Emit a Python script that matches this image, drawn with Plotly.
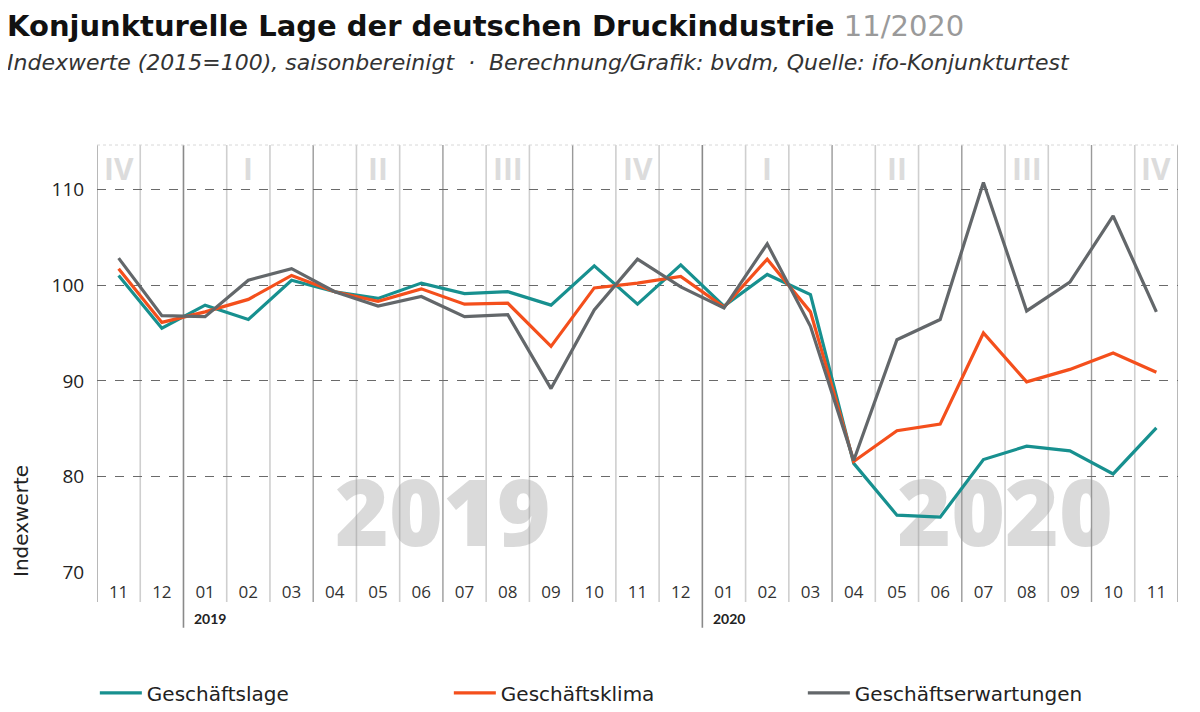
import plotly.graph_objects as go

# Monate 11/2018 - 11/2020
months = ["11", "12", "01", "02", "03", "04", "05", "06", "07", "08", "09", "10", "11", "12",
          "01", "02", "03", "04", "05", "06", "07", "08", "09", "10", "11"]

geschaeftslage = [101.0, 95.5, 97.9, 96.4, 100.5, 99.3, 98.6, 100.2, 99.1, 99.3, 97.9, 102.0, 98.0,
                  102.1, 97.8, 101.1, 99.0, 81.4, 76.0, 75.8, 81.8, 83.2, 82.7, 80.3, 85.1]
geschaeftsklima = [101.7, 96.1, 97.2, 98.5, 101.0, 99.3, 98.3, 99.6, 98.0, 98.1, 93.6, 99.7, 100.2,
                   100.9, 97.7, 102.7, 97.2, 81.6, 84.8, 85.5, 95.0, 89.9, 91.2, 92.9, 90.9]
geschaeftserwartungen = [102.8, 96.8, 96.7, 100.5, 101.7, 99.3, 97.8, 98.8, 96.7, 96.9, 89.2, 97.4, 102.7,
                         99.8, 97.6, 104.3, 95.7, 81.7, 94.3, 96.4, 110.7, 97.3, 100.3, 107.2, 97.2]

quarters = ["IV", "I", "II", "III", "IV", "I", "II", "III", "IV"]
quarter_pos = [0, 3, 6, 9, 12, 15, 18, 21, 24]
years = ["2019", "2020"]
year_pos = [1.5, 13.5]
year_mark_pos = [7.5, 20.5]

FONT = "Lato"
TFONT = "Open Sans"
WFONT = "DejaVu Sans"
x = list(range(len(months)))

fig = go.Figure()

# grosse Jahreszahlen im Hintergrund
fig.add_trace(go.Scatter(x=year_mark_pos, y=[75.2, 75.2], mode="text", text=years,
                         textfont=dict(family=TFONT, size=92, color="rgba(150,150,150,0.35)", weight=800),
                         hoverinfo="skip", showlegend=False))

series = [("Geschäftslage", geschaeftslage, "#17908f"),
          ("Geschäftsklima", geschaeftsklima, "#f44f1c"),
          ("Geschäftserwartungen", geschaeftserwartungen, "#63676a")]
for name, vals, col in series:
    fig.add_trace(go.Scatter(x=x, y=vals, mode="lines", name=name,
                             line=dict(color=col, width=3.2)))

shapes = []
for k in range(len(months) + 1):
    xb = k - 0.5
    if k in (2, 14):
        shapes.append(dict(type="line", xref="x", yref="paper", x0=xb, x1=xb, y0=-0.128, y1=1,
                           line=dict(color="#8a8a8a", width=1.6), layer="below"))
    elif (k - 2) % 3 == 0 or k in (0, 25):
        shapes.append(dict(type="line", xref="x", yref="paper", x0=xb, x1=xb, y0=-0.068, y1=1,
                           line=dict(color="#9a9a9a", width=1.4), layer="below"))
    else:
        shapes.append(dict(type="line", xref="x", yref="paper", x0=xb, x1=xb, y0=-0.068, y1=1,
                           line=dict(color="#cfcfcf", width=1.6), layer="below"))
shapes.append(dict(type="line", xref="paper", yref="paper", x0=0, x1=1, y0=1, y1=1,
                   line=dict(color="#d8d8d8", width=1, dash="dot"), layer="below"))

annotations = []
for q, p in zip(quarters, quarter_pos):
    annotations.append(dict(x=p, y=112.1, xref="x", yref="y", text="<b>%s</b>" % q, showarrow=False,
                            font=dict(family=TFONT, size=30, color="#dcdcdc")))
for yr, p in zip(years, year_pos):
    annotations.append(dict(x=p, y=-0.107, xref="x", yref="paper", text="<b>%s</b>" % yr, showarrow=False,
                            xanchor="left", yanchor="middle", xshift=9,
                            font=dict(family=FONT, size=14, color="#222")))
annotations.append(dict(x=-76 / 1081, y=(573 - 521) / 428, xref="paper", yref="paper", text="Indexwerte",
                        textangle=-90, xanchor="center", yanchor="middle", showarrow=False,
                        font=dict(family=WFONT, size=20, color="#222")))
annotations.append(dict(x=-92 / 1081, y=(573 - 62) / 428, xref="paper", yref="paper", xanchor="left",
                        yanchor="middle", showarrow=False,
                        text="<i>Indexwerte (2015=100), saisonbereinigt  ·  Berechnung/Grafik: bvdm, Quelle: ifo-Konjunkturtest</i>",
                        font=dict(family=WFONT, size=22, color="#333")))
annotations.append(dict(x=-92 / 1081, y=(573 - 26) / 428, xref="paper", yref="paper", xanchor="left",
                        yanchor="middle", showarrow=False,
                        text="<b>Konjunkturelle Lage der deutschen Druckindustrie</b> <span style='color:#9a9a9a'>11/2020</span>",
                        font=dict(family=WFONT, size=29, color="#111")))

# Seite hat 8px Rand, daher 1192x704
fig.update_layout(
    width=1192, height=704,
    margin=dict(l=89, r=22, t=137, b=139, autoexpand=False),
    paper_bgcolor="white", plot_bgcolor="white",
    shapes=shapes,
    annotations=annotations,
    legend=dict(orientation="h", x=-0.002, xanchor="left", y=-0.28, yanchor="middle",
                entrywidth=297, entrywidthmode="pixels", itemwidth=42,
                font=dict(family=WFONT, size=20, color="#222")),
    showlegend=True,
)
fig.update_xaxes(range=[-0.5, 24.5], tickvals=x, ticktext=months, showgrid=False, zeroline=False,
                 showline=False, ticks="outside", ticklen=4, tickcolor="rgba(0,0,0,0)",
                 tickfont=dict(family=TFONT, size=17, color="#333"))
fig.update_yaxes(range=[69.97, 114.6], tickvals=[70, 80, 90, 100, 110], showgrid=True,
                 gridcolor="#6a6a6a", gridwidth=1, griddash="dash", zeroline=False, showline=False,
                 ticks="outside", ticklen=8, tickcolor="rgba(0,0,0,0)",
                 tickfont=dict(family=TFONT, size=19, color="#222"))

fig.write_html("out.html")
